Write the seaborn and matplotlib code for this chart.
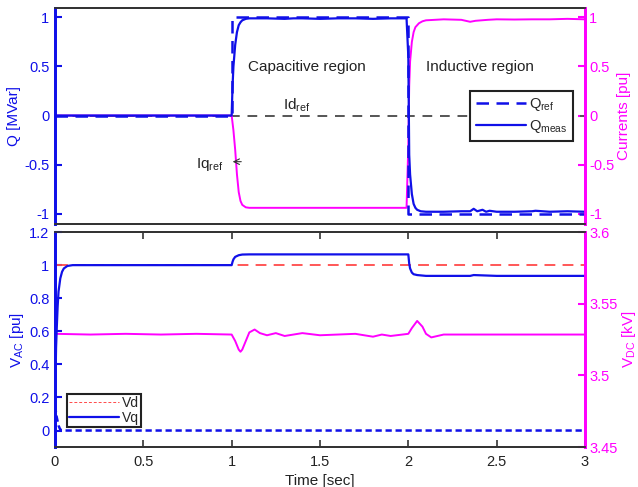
import matplotlib
matplotlib.use("Agg")
import matplotlib.pyplot as plt
from matplotlib.lines import Line2D
from matplotlib.ticker import FormatStrFormatter
import seaborn as sns

# ---- top panel: reactive power (left) and currents (right) ----
t_qref = [0, 1.0, 1.0, 2.0, 2.0, 3.0]
q_ref = [0, 0, 1, 1, -1, -1]

t_qmeas = [0, 1.0, 1.005, 1.01, 1.02, 1.03, 1.04, 1.05, 1.06, 1.08, 1.1, 1.2, 1.3, 1.35,
           1.4, 1.5, 1.6, 1.7, 1.8, 1.9, 1.99, 2.0, 2.005, 2.01, 2.02, 2.03, 2.04, 2.05,
           2.07, 2.1, 2.2, 2.3, 2.35, 2.37, 2.39, 2.42, 2.44, 2.46, 2.5, 2.6, 2.7, 2.72,
           2.8, 2.9, 3.0]
q_meas = [0, 0, 0.3, 0.5, 0.72, 0.85, 0.92, 0.95, 0.97, 0.985, 0.99, 0.99, 0.985, 0.99,
          0.99, 0.985, 0.99, 0.99, 0.985, 0.99, 0.99, 0.6, -0.4, -0.6, -0.8, -0.9, -0.94,
          -0.96, -0.975, -0.98, -0.98, -0.975, -0.975, -0.95, -0.975, -0.96, -0.98,
          -0.97, -0.98, -0.98, -0.975, -0.97, -0.98, -0.975, -0.98]

t_idref = [0, 3.0]
id_ref = [0, 0]

t_iq = [0, 1.0, 1.01, 1.02, 1.03, 1.04, 1.05, 1.06, 1.08, 1.1, 1.5, 1.99, 2.0, 2.005, 2.01,
        2.02, 2.03, 2.04, 2.06, 2.08, 2.1, 2.2, 2.3, 2.35, 2.38, 2.45, 2.5, 2.6, 2.7,
        2.8, 2.9, 3.0]
iq = [0, 0, -0.15, -0.35, -0.6, -0.78, -0.87, -0.91, -0.935, -0.94, -0.94, -0.94, -0.3,
      0.3, 0.55, 0.75, 0.85, 0.9, 0.94, 0.96, 0.97, 0.98, 0.975, 0.955, 0.965, 0.975,
      0.98, 0.978, 0.98, 0.98, 0.985, 0.98]

# ---- bottom panel: AC voltages (left) and DC voltage (right) ----
t_vdref = [0.01, 3.0]
vd_ref = [1.0, 1.0]

t_vq = [0, 0.003, 0.006, 0.01, 0.015, 0.02, 0.03, 0.04, 0.05, 0.07, 0.1, 1.0, 1.005, 1.01,
        1.02, 1.04, 1.06, 1.1, 1.5, 2.0, 2.005, 2.01, 2.02, 2.03, 2.05, 2.1, 2.35, 2.37,
        2.5, 3.0]
vq = [0.0, 0.3, 0.5, 0.62, 0.75, 0.84, 0.92, 0.96, 0.98, 0.995, 1.0, 1.0, 1.02, 1.035,
      1.05, 1.06, 1.064, 1.065, 1.065, 1.065, 1.01, 0.98, 0.955, 0.945, 0.94, 0.935,
      0.935, 0.94, 0.935, 0.935]

t_vd = [0, 0.01, 0.02, 0.03, 0.05, 2.0, 3.0]
vd = [0.15, 0.08, 0.03, 0.005, 0, 0, 0]

t_vdc = [0.005, 0.2, 0.4, 0.6, 0.8, 1.0, 1.02, 1.04, 1.05, 1.06, 1.08, 1.1, 1.13, 1.16,
         1.2, 1.25, 1.3, 1.4, 1.5, 1.6, 1.7, 1.8, 1.85, 1.9, 2.0, 2.02, 2.05, 2.08, 2.1,
         2.13, 2.2, 2.4, 2.6, 2.8, 3.0]
vdc = [3.529, 3.5285, 3.529, 3.5285, 3.529, 3.5285, 3.524, 3.518, 3.5165, 3.518, 3.524,
       3.53, 3.532, 3.5295, 3.528, 3.5295, 3.5275, 3.5295, 3.528, 3.5285, 3.529, 3.527,
       3.5285, 3.5275, 3.529, 3.533, 3.538, 3.534, 3.529, 3.5265, 3.5285, 3.5285,
       3.5285, 3.5285, 3.5285]

x_ticks = [0, 0.5, 1, 1.5, 2, 2.5, 3]
q_ticks = [-1, -0.5, 0, 0.5, 1]
vac_ticks = [0, 0.2, 0.4, 0.6, 0.8, 1.0, 1.2]
vdc_ticks = [3.45, 3.5, 3.55, 3.6]

BLUE = "#1010e8"
PINK = "#ff00ff"
GRAY = "#555555"
RED = "#ff4a4a"

sns.set_style("white")
plt.rcParams["font.family"] = ["Liberation Sans", "DejaVu Sans"]
plt.rcParams["font.size"] = 10
plt.rcParams["mathtext.default"] = "regular"

fig = plt.figure(figsize=(6.38, 4.87), dpi=100)
ax1 = fig.add_axes([0.0862, 0.541, 0.8307, 0.4435])
ax2 = fig.add_axes([0.0862, 0.082, 0.8307, 0.4415])
ax1r = ax1.twinx()
ax2r = ax2.twinx()


def line(ax, x, y, **kw):
    sns.lineplot(x=x, y=y, ax=ax, estimator=None, sort=False, legend=False, **kw)


# top panel
line(ax1r, t_idref, id_ref, color=GRAY, linewidth=1.4, linestyle=(0, (5, 4)))
line(ax1r, t_iq, iq, color=PINK, linewidth=1.4)
line(ax1, t_qref, q_ref, color=BLUE, linewidth=1.8, linestyle=(0, (5, 3)))
line(ax1, t_qmeas, q_meas, color=BLUE, linewidth=1.6)

# bottom panel
line(ax2, t_vdref, vd_ref, color=RED, linewidth=1.3, linestyle=(0, (6, 4)))
line(ax2r, t_vdc, vdc, color=PINK, linewidth=1.4)
line(ax2, t_vd, vd, color=BLUE, linewidth=1.8, linestyle=(0, (2.5, 1.5)))
line(ax2, t_vq, vq, color=BLUE, linewidth=1.6)

# keep left-axis lines drawn above right-axis lines
ax1.set_zorder(ax1r.get_zorder() + 1)
ax1.patch.set_visible(False)
ax2.set_zorder(ax2r.get_zorder() + 1)
ax2.patch.set_visible(False)

for ax in (ax1, ax1r, ax2, ax2r):
    ax.set_xlim(0, 3)
    ax.set_xlabel("")
ax1.set_ylim(-1.1, 1.1)
ax1r.set_ylim(-1.1, 1.1)
ax2.set_ylim(-0.1, 1.2)
ax2r.set_ylim(3.45, 3.6)

ax1.set_yticks(q_ticks)
ax1r.set_yticks(q_ticks)
ax2.set_yticks(vac_ticks)
ax2r.set_yticks(vdc_ticks)
ax1.set_xticks([])
ax2.set_xticks(x_ticks)
for ax in (ax1, ax1r, ax2, ax2r):
    ax.yaxis.set_major_formatter(FormatStrFormatter("%g"))
ax2.xaxis.set_major_formatter(FormatStrFormatter("%g"))

for ax in (ax1, ax2):
    ax.tick_params(axis="y", colors=BLUE, direction="in", length=5, width=1.5,
                   labelsize=10.5, pad=4)
for ax in (ax1r, ax2r):
    ax.tick_params(axis="y", colors=PINK, direction="in", length=5, width=1.5,
                   labelsize=10.5, pad=3)
ax2.tick_params(axis="x", direction="in", length=5, width=1.2, top=True, bottom=True,
                colors="#333333", labelsize=10.5, labelcolor="#222222", pad=6)

for ax in (ax1, ax1r, ax2, ax2r):
    for s in ("top", "bottom"):
        ax.spines[s].set_color("#333333")
        ax.spines[s].set_linewidth(1.3)
    ax.spines["left"].set_color(BLUE)
    ax.spines["left"].set_linewidth(2)
    ax.spines["right"].set_color(PINK)
    ax.spines["right"].set_linewidth(2)

ax1.set_ylabel("Q [MVar]", color=BLUE, fontsize=11, labelpad=2)
ax1r.set_ylabel("Currents [pu]", color=PINK, fontsize=11, labelpad=2)
ax2.set_ylabel("V$_{AC}$ [pu]", color=BLUE, fontsize=11, labelpad=2)
ax2r.set_ylabel("V$_{DC}$ [kV]", color=PINK, fontsize=11, labelpad=2)
ax2.set_xlabel("Time [sec]", color="#222222", fontsize=11, labelpad=3)

# annotations
ax1.text(1.09, 0.49, "Capacitive region", fontsize=11, color="#222222", va="center")
ax1.text(2.1, 0.49, "Inductive region", fontsize=11, color="#222222", va="center")
ax1.text(1.29, 0.1, "Id$_{ref}$", fontsize=11, color="#222222", va="center")
ax1.text(0.8, -0.5, "Iq$_{ref}$", fontsize=11, color="#222222", va="center")
ax1.annotate("", xy=(0.99, -0.47), xytext=(1.07, -0.47),
             arrowprops=dict(arrowstyle="->", color="#333333", lw=0.8))

# legends
h_top = [Line2D([], [], color=BLUE, lw=1.8, linestyle=(0, (5, 3))),
         Line2D([], [], color=BLUE, lw=1.6)]
leg1 = ax1.legend(h_top, ["Q$_{ref}$", "Q$_{meas}$"], loc="center right",
                  bbox_to_anchor=(0.977, 0.5), borderaxespad=0, fancybox=False,
                  edgecolor="#222222", framealpha=1, handlelength=3.4,
                  handletextpad=0.2, fontsize=10.5, borderpad=0.4, labelspacing=0.3)
leg1.get_frame().set_linewidth(1.5)

h_bot = [Line2D([], [], color=RED, lw=0.7, linestyle=(0, (3, 2))),
         Line2D([], [], color=BLUE, lw=1.6)]
leg2 = ax2.legend(h_bot, ["Vd", "Vq"], loc="lower left", bbox_to_anchor=(0.023, 0.093),
                  borderaxespad=0, fancybox=False, edgecolor="#222222", framealpha=1,
                  handlelength=3.6, handletextpad=0.2, fontsize=10, borderpad=0.15,
                  labelspacing=0.05)
leg2.get_frame().set_linewidth(1.5)

fig.savefig("out.png", dpi=100)
